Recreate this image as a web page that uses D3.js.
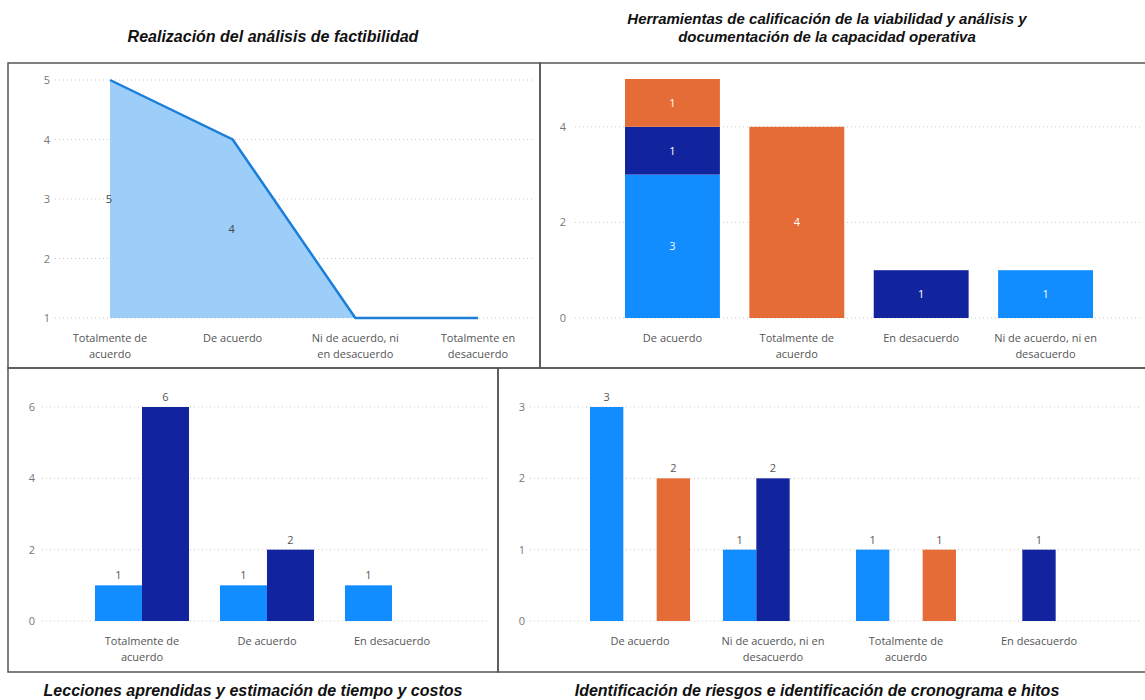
<!DOCTYPE html>
<html>
<head>
<meta charset="utf-8">
<script src="https://cdn.jsdelivr.net/npm/d3@7"></script>
<style>
  body { margin: 0; background: #fff; }
  svg { display: block; }
  .tick-label { font-family: "Open Sans", sans-serif; font-size: 11px; fill: #777; }
  .cat-label { font-family: "Open Sans", sans-serif; font-size: 11px; fill: #555; }
  .title { font-family: "Liberation Sans", Arial, sans-serif; font-weight: bold; font-style: italic; fill: #111; }
</style>
</head>
<body>
<div id="chart"></div>
<script>
// ---- data ----
var lightblue = "#118DFF", navy = "#12239E", orange = "#E66C37";

// panel 1: area
var p1Cats = ["Totalmente de acuerdo", "De acuerdo", "Ni de acuerdo, ni en desacuerdo", "Totalmente en desacuerdo"];
var p1Values = [5, 4, 1, 1];
var p1Ticks = [1, 2, 3, 4, 5];

// panel 2: stacked
var p2Cats = ["De acuerdo", "Totalmente de acuerdo", "En desacuerdo", "Ni de acuerdo, ni en desacuerdo"];
var p2Blue = [3, 0, 0, 1];
var p2Navy = [1, 0, 1, 0];
var p2Orange = [1, 4, 0, 0];
var p2Ticks = [0, 2, 4];

// panel 3: grouped (2 series)
var p3Cats = ["Totalmente de acuerdo", "De acuerdo", "En desacuerdo"];
var p3Blue = [1, 1, 1];
var p3Navy = [6, 2, 0];
var p3Ticks = [0, 2, 4, 6];

// panel 4: grouped (3 series)
var p4Cats = ["De acuerdo", "Ni de acuerdo, ni en desacuerdo", "Totalmente de acuerdo", "En desacuerdo"];
var p4Blue = [3, 1, 1, 0];
var p4Navy = [0, 2, 0, 1];
var p4Orange = [2, 0, 1, 0];
var p4Ticks = [0, 1, 2, 3];

var titles = [
  ["Realización del análisis de factibilidad"],
  ["Herramientas de calificación de la viabilidad y análisis y", "documentación de la capacidad operativa"],
  ["Lecciones aprendidas y estimación de tiempo y costos"],
  ["Identificación de riesgos e identificación de cronograma e hitos"]
];

var svg = d3.select("#chart").append("svg")
  .attr("width", 1145).attr("height", 700);

// ---- helpers ----
function drawGrid(ticks, y, x1, x2, labelX) {
  var g = svg.append("g");
  g.selectAll("line").data(ticks).enter().append("line")
    .attr("x1", x1).attr("x2", x2)
    .attr("y1", function(d) { return y(d); })
    .attr("y2", function(d) { return y(d); })
    .attr("stroke", "#c8c8c8")
    .attr("stroke-dasharray", "1,3");
  g.selectAll("text").data(ticks).enter().append("text")
    .attr("class", "tick-label")
    .attr("x", labelX)
    .attr("y", function(d) { return y(d) + 4; })
    .attr("text-anchor", "end")
    .text(function(d) { return d; });
}

// wrap category names to maxW pixels
function drawCats(cats, xCenter, yTop, maxW) {
  cats.forEach(function(c) {
    var t = svg.append("text").attr("class", "cat-label")
      .attr("text-anchor", "middle")
      .attr("x", xCenter(c)).attr("y", yTop);
    var words = c.split(" "), line = [];
    var ts = t.append("tspan").attr("x", xCenter(c)).attr("dy", 0);
    words.forEach(function(w) {
      line.push(w);
      ts.text(line.join(" "));
      if (ts.node().getComputedTextLength() > maxW && line.length > 1) {
        line.pop();
        ts.text(line.join(" "));
        line = [w];
        ts = t.append("tspan").attr("x", xCenter(c)).attr("dy", 15.5).text(w);
      }
    });
  });
}

function drawTitle(lines, cx, y, size) {
  lines.forEach(function(l, i) {
    svg.append("text").attr("class", "title")
      .attr("x", cx).attr("y", y + i * 18)
      .attr("text-anchor", "middle")
      .attr("font-size", size + "px")
      .text(l);
  });
}

function box(x, y, w, h) {
  svg.append("rect").attr("x", x).attr("y", y).attr("width", w).attr("height", h)
    .attr("fill", "none").attr("stroke", "#555").attr("stroke-width", 1.5);
}

// ---- panel frames ----
box(8, 63, 532, 305);
box(540, 63, 610, 305);
box(8, 368, 490, 304);
box(498, 368, 652, 304);

// ---- panel 1 : area ----
var x1 = d3.scalePoint().domain(p1Cats).range([110, 478]);
var y1 = d3.scaleLinear().domain([1, 5]).range([318, 80]);
drawGrid(p1Ticks, y1, 55, 535, 50);
var p1Data = p1Cats.map(function(c, i) { return {cat: c, value: p1Values[i]}; });
svg.append("path").datum(p1Data)
  .attr("fill", "#9DCEF9")
  .attr("d", d3.area().x(function(d) { return x1(d.cat); }).y0(y1(1)).y1(function(d) { return y1(d.value); }));
svg.append("path").datum(p1Data)
  .attr("fill", "none").attr("stroke", "#1B7FDA").attr("stroke-width", 2.5)
  .attr("d", d3.line().x(function(d) { return x1(d.cat); }).y(function(d) { return y1(d.value); }));
svg.selectAll(".p1lab").data(p1Data.filter(function(d) { return d.value > 1; })).enter().append("text")
  .attr("class", "tick-label")
  .style("fill", "#444")
  .attr("text-anchor", "middle")
  .attr("x", function(d) { return x1(d.cat) - 1; })
  .attr("y", function(d) { return (y1(d.value) + y1(1)) / 2 + 4; })
  .text(function(d) { return d.value; });
drawCats(p1Cats, x1, 342, 95);
drawTitle(titles[0], 273, 42, 16);

// ---- panel 2 : stacked bars ----
var x2 = d3.scaleBand().domain(p2Cats).range([625, 1093]).paddingInner(0.237);
var y2 = d3.scaleLinear().domain([0, 5]).range([318, 79]);
drawGrid(p2Ticks, y2, 575, 1140, 566);
var p2Rows = p2Cats.map(function(c, i) { return {cat: c, blue: p2Blue[i], navy: p2Navy[i], orange: p2Orange[i]}; });
var p2Keys = ["blue", "navy", "orange"];
var p2Col = {blue: lightblue, navy: navy, orange: orange};
var stacked = d3.stack().keys(p2Keys)(p2Rows);
stacked.forEach(function(layer) {
  var segs = layer.filter(function(s) { return s[1] - s[0] > 0; });
  svg.selectAll(null).data(segs).enter().append("rect")
    .attr("x", function(s) { return x2(s.data.cat); })
    .attr("width", x2.bandwidth())
    .attr("y", function(s) { return y2(s[1]); })
    .attr("height", function(s) { return y2(s[0]) - y2(s[1]); })
    .attr("fill", p2Col[layer.key]);
  svg.selectAll(null).data(segs).enter().append("text")
    .attr("class", "tick-label")
    .style("fill", "#fff")
    .attr("text-anchor", "middle")
    .attr("x", function(s) { return x2(s.data.cat) + x2.bandwidth() / 2; })
    .attr("y", function(s) { return (y2(s[0]) + y2(s[1])) / 2 + 4; })
    .text(function(s) { return s[1] - s[0]; });
});
drawCats(p2Cats, function(c) { return x2(c) + x2.bandwidth() / 2; }, 342, 110);
drawTitle(titles[1], 827, 24, 15);

// ---- grouped bars ----
function grouped(cats, series, keys, colors, xr, pad, y) {
  var x = d3.scaleBand().domain(cats).range(xr).paddingInner(pad);
  var xs = d3.scaleBand().domain(keys).range([0, x.bandwidth()]);
  keys.forEach(function(k, ki) {
    var d = cats.map(function(c, i) { return {cat: c, v: series[ki][i]}; }).filter(function(e) { return e.v > 0; });
    svg.selectAll(null).data(d).enter().append("rect")
      .attr("x", function(e) { return x(e.cat) + xs(k); })
      .attr("width", xs.bandwidth())
      .attr("y", function(e) { return y(e.v); })
      .attr("height", function(e) { return y(0) - y(e.v); })
      .attr("fill", colors[ki]);
    svg.selectAll(null).data(d).enter().append("text")
      .attr("class", "tick-label")
      .style("fill", "#555")
      .attr("text-anchor", "middle")
      .attr("x", function(e) { return x(e.cat) + xs(k) + xs.bandwidth() / 2; })
      .attr("y", function(e) { return y(e.v) - 6; })
      .text(function(e) { return e.v; });
  });
  return function(c) { return x(c) + x.bandwidth() / 2; };
}

// ---- panel 3 ----
var y3 = d3.scaleLinear().domain([0, 6]).range([621, 407]);
drawGrid(p3Ticks, y3, 42, 490, 35);
var cx3 = grouped(p3Cats, [p3Blue, p3Navy], ["blue", "navy"], [lightblue, navy], [95, 439], 0.248, y3);
drawCats(p3Cats, cx3, 645, 110);
drawTitle(titles[2], 253, 696, 16);

// ---- panel 4 ----
var y4 = d3.scaleLinear().domain([0, 3]).range([621, 407]);
drawGrid(p4Ticks, y4, 530, 1140, 525);
var cx4 = grouped(p4Cats, [p4Blue, p4Navy, p4Orange], ["blue", "navy", "orange"], [lightblue, navy, orange], [590, 1089], 0.248, y4);
drawCats(p4Cats, cx4, 645, 110);
drawTitle(titles[3], 817, 696, 16);
</script>
</body>
</html>
